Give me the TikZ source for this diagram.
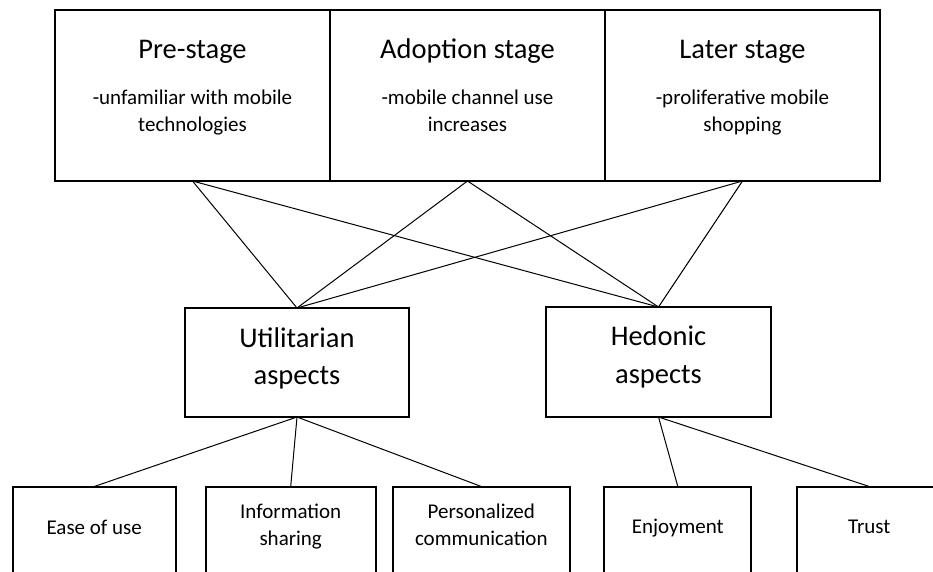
\documentclass[tikz,border=0pt]{standalone}
\usepackage{fontspec}
\setmainfont{Carlito}
\begin{document}
\begin{tikzpicture}[x=1pt,y=-1pt,
  box/.style={draw, line width=2pt, inner sep=0pt, outer sep=0pt},
  link/.style={draw, line width=1pt},
  ttl/.style={anchor=base, inner sep=0pt, font=\fontsize{28.5}{34}\selectfont},
  sub/.style={anchor=base, inner sep=0pt, font=\fontsize{21}{26}\selectfont}]
\useasboundingbox (0,0) rectangle (933,571);
\fill[white] (0,0) rectangle (933,571);
\clip (0,0) rectangle (933,571);

% top stage boxes
\node[box, minimum width=275pt, minimum height=171pt] (pre)   at (192.5,95.5) {};
\node[box, minimum width=275pt, minimum height=171pt] (adopt) at (467.5,95.5) {};
\node[box, minimum width=275pt, minimum height=171pt] (later) at (742.5,95.5) {};

\node[ttl] (preT)  at (192.5,58.5) {Pre-stage};
\node[sub] (preS1) at (192.5,104.5) {-unfamiliar with mobile};
\node[sub] (preS2) at (192.5,131) {technologies};

\node[ttl] (adoT)  at (467.5,58.5) {Adoption stage};
\node[sub] (adoS1) at (467.5,104.5) {-mobile channel use};
\node[sub] (adoS2) at (467.5,131) {increases};

\node[ttl] (latT)  at (742.5,58.5) {Later stage};
\node[sub] (latS1) at (742.5,104.5) {-proliferative mobile};
\node[sub] (latS2) at (742.5,131) {shopping};

% middle boxes
\node[box, minimum width=224pt, minimum height=109pt] (util) at (297,362.5) {};
\node[ttl] (utilT1) at (297,347) {Utilitarian};
\node[ttl] (utilT2) at (297,384) {aspects};

\node[box, minimum width=225pt, minimum height=110pt] (hed) at (658.5,362) {};
\node[ttl] (hedT1) at (658.5,345.5) {Hedonic};
\node[ttl] (hedT2) at (658.5,383) {aspects};

% bottom boxes
\node[box, minimum width=163pt, minimum height=113pt] (ease)  at (94.2,543) {};
\node[box, minimum width=170pt, minimum height=113pt] (info)  at (290.7,543) {};
\node[box, minimum width=177pt, minimum height=113pt] (pers)  at (481.3,543) {};
\node[box, minimum width=147pt, minimum height=113pt] (enj)   at (677.8,543) {};
\node[box, minimum width=145pt, minimum height=113pt] (trust) at (869.3,543) {};

\node[sub] (easeT)  at (94.2,534) {Ease of use};
\node[sub] (infoT1) at (290.7,518) {Information};
\node[sub] (infoT2) at (290.7,545.5) {sharing};
\node[sub] (persT1) at (481.3,518) {Personalized};
\node[sub] (persT2) at (481.3,545) {communication};
\node[sub] (enjT)   at (677.8,533.5) {Enjoyment};
\node[sub] (trustT) at (869.3,533.5) {Trust};

% connectors
\draw[link] (pre.south) -- (util.north);
\draw[link] (pre.south) -- (hed.north);
\draw[link] (adopt.south) -- (util.north);
\draw[link] (adopt.south) -- (hed.north);
\draw[link] (later.south) -- (util.north);
\draw[link] (later.south) -- (hed.north);

\draw[link] (util.south) -- (ease.north);
\draw[link] (util.south) -- (info.north);
\draw[link] (util.south) -- (pers.north);
\draw[link] (hed.south) -- (enj.north);
\draw[link] (hed.south) -- (trust.north);
\end{tikzpicture}
\end{document}
